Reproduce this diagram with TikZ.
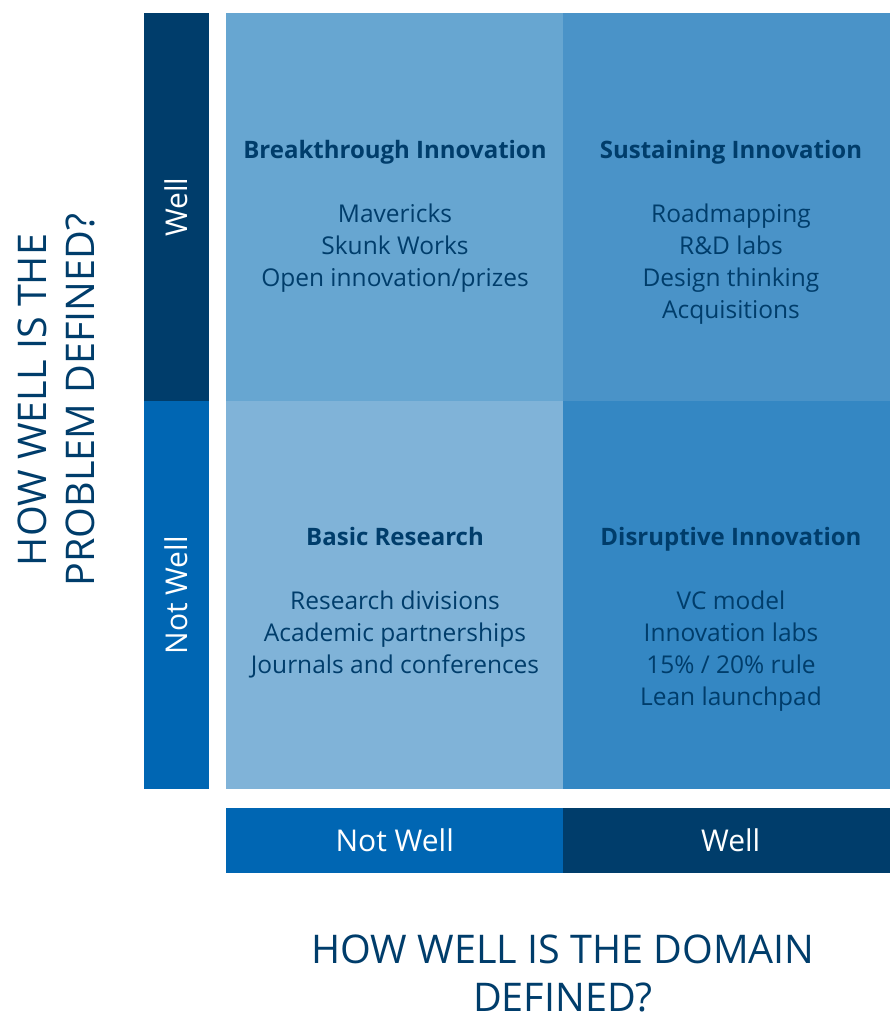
\documentclass[tikz,border=0pt]{standalone}
\usepackage{fontspec}
\setmainfont{Open Sans}
\usetikzlibrary{positioning}
\definecolor{navy}{HTML}{003D6B}
\definecolor{midblue}{HTML}{0066B3}
\definecolor{quadTL}{HTML}{67A6D1}
\definecolor{quadTR}{HTML}{4A93C8}
\definecolor{quadBL}{HTML}{80B3D8}
\definecolor{quadBR}{HTML}{3487C3}
\tikzset{
    %Define style for the four quadrants
    quad/.style={
           rectangle,
           inner sep=0pt,
           minimum width=#1,
           minimum height=388pt,
           anchor=north west,
           },
    %Define style for the axis bars
    bar/.style={
           rectangle,
           inner sep=0pt,
           text=white,
           font=\fontsize{30}{36}\selectfont,
           },
    %Define style for the texts in the quadrants
    heading/.style={
           anchor=base,
           text=navy,
           font=\fontsize{24}{28}\selectfont\bfseries,
           },
    items/.style={
           anchor=north,
           align=center,
           text=navy,
           inner sep=0pt,
           font=\fontsize{24.5}{32}\selectfont,
           },
    axistitle/.style={
           align=center,
           text=navy,
           inner sep=0pt,
           font=\fontsize{39.5}{48}\selectfont,
           }
}
\begin{document}
\begin{tikzpicture}[x=1pt,y=-1pt]
\useasboundingbox[fill=white] (0,0) rectangle (890,1017);

 %quadrants
\node[quad=337pt, fill=quadTL](tl) at (226,13){};
\node[quad=327pt, fill=quadTR](tr) at (563,13){};
\node[quad=337pt, fill=quadBL](bl) at (226,401){};
\node[quad=327pt, fill=quadBR](br) at (563,401){};

 %vertical bar
\node[bar, fill=navy, minimum width=65pt, minimum height=388pt, anchor=north west](pwell) at (144,13){};
\node[bar, fill=midblue, minimum width=65pt, minimum height=388pt, anchor=north west](pnot) at (144,401){};
\node[bar, rotate=90] at (pwell.center){Well};
\node[bar, rotate=90] at (pnot.center){Not Well};

 %horizontal bar
\node[bar, fill=midblue, minimum width=337pt, minimum height=65pt, anchor=north west](dnot) at (226,808){};
\node[bar, fill=navy, minimum width=327pt, minimum height=65pt, anchor=north west](dwell) at (563,808){};
\node[bar] at (dnot.center){Not Well};
\node[bar, xshift=4pt] at (dwell.center){Well};

 %quadrant texts
\node[heading] (h1) at (395,158){Breakthrough Innovation};
\node[items, below=46pt of h1.base] {Mavericks\\Skunk Works\\Open innovation/prizes};
\node[heading] (h2) at (731,158){Sustaining Innovation};
\node[items, below=46pt of h2.base] {Roadmapping\\R\&D labs\\Design thinking\\Acquisitions};
\node[heading] (h3) at (395,545){Basic Research};
\node[items, below=46pt of h3.base] {Research divisions\\Academic partnerships\\Journals and conferences};
\node[heading] (h4) at (731,545){Disruptive Innovation};
\node[items, below=46pt of h4.base] {VC model\\Innovation labs\\15\% / 20\% rule\\Lean launchpad};

 %axis titles
\node[axistitle, rotate=90] (ytitle) at (56,400){HOW WELL IS THE\\PROBLEM DEFINED?};
\node[axistitle] (xtitle) at (563,973){HOW WELL IS THE DOMAIN\\DEFINED?};

\end{tikzpicture}
\end{document}
